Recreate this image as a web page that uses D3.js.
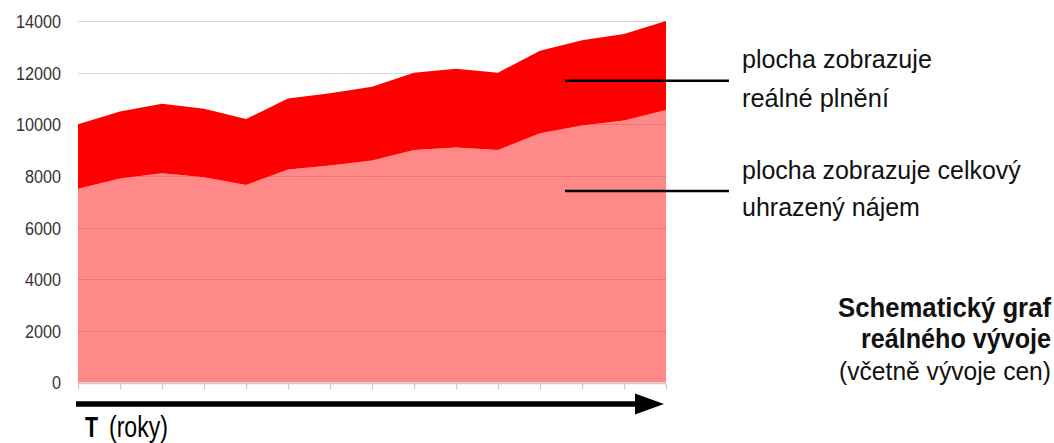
<!DOCTYPE html>
<html><head><meta charset="utf-8">
<script src="https://cdn.jsdelivr.net/npm/d3@7"></script>
<style>body{margin:0;background:#fff}svg{display:block}</style>
</head><body>
<svg id="c" width="1054" height="443"></svg>
<script>
// ---- data ----
const periods = [1,2,3,4,5,6,7,8,9,10,11,12,13,14,15];
const uhrazenyNajem = [7500,7900,8100,7950,7650,8250,8400,8600,9000,9100,9000,9650,9950,10150,10550];
const realnePlneni  = [10000,10500,10800,10600,10200,11000,11200,11450,12000,12150,12000,12850,13250,13500,14000];
const yTicks = [0,2000,4000,6000,8000,10000,12000,14000];
const xAxisLabelBold = "T";
const xAxisLabelRest = "(roky)";
const noteTop = ["plocha zobrazuje","reálné plnění"];
const noteBottom = ["plocha zobrazuje celkový","uhrazený nájem"];
const titleLines = ["Schematický graf","reálného vývoje"];
const subtitle = "(včetně vývoje cen)";

const svg = d3.select("#c");
const font = "'Liberation Sans',Arial,sans-serif";
const x = d3.scalePoint().domain(periods).range([78,666]);
const y = d3.scaleLinear().domain([0,14000]).range([382.5,21]);

// gridlines
svg.append("g").selectAll("line").data(yTicks.filter(d=>d>0)).join("line")
  .attr("x1",78).attr("x2",666).attr("y1",d=>Math.round(y(d))+0.5).attr("y2",d=>Math.round(y(d))+0.5)
  .attr("stroke","#d9d9d9").attr("stroke-width",1.2);

const rows = periods.map((p,i)=>({p, low:uhrazenyNajem[i], high:realnePlneni[i]}));
svg.append("path").datum(rows)
  .attr("d", d3.area().x(d=>x(d.p)).y0(y(0)).y1(d=>y(d.low)))
  .attr("fill","rgb(255,0,0)").attr("fill-opacity",0.465);
svg.append("path").datum(rows)
  .attr("d", d3.area().x(d=>x(d.p)).y0(d=>y(d.low)).y1(d=>y(d.high)))
  .attr("fill","#ff0000");

// x axis
const xa = svg.append("g").attr("transform",`translate(0,${Math.round(y(0))+0.5})`)
  .call(d3.axisBottom(x).tickSize(6).tickFormat(""));
xa.select(".domain").attr("stroke","#cccccc").attr("stroke-width",1.5).attr("d","M78,0H666");
xa.selectAll(".tick line").attr("stroke","#cccccc").attr("stroke-width",1.2);

// y labels
const ya = svg.append("g").attr("transform","translate(61,0)")
  .call(d3.axisLeft(y).tickValues(yTicks).tickSize(0).tickPadding(0).tickFormat(d3.format("d")));
ya.select(".domain").remove();
ya.selectAll("text").attr("font-family",font).attr("font-size",18)
  .attr("fill","#333").attr("dy","0.36em")
  .attr("textLength",d=>String(d).length*9).attr("lengthAdjust","spacingAndGlyphs");

// time arrow
svg.append("line").attr("x1",76).attr("x2",637).attr("y1",404).attr("y2",404)
  .attr("stroke","#000").attr("stroke-width",5.5);
svg.append("path").attr("d","M635,393.5L664,404L635,414.5Z").attr("fill","#000");

// text fitted to a target width by horizontal scaling
function fitText(str,xx,yy,opts){
  const t = svg.append("text").attr("font-family",font)
    .attr("font-size",opts.size).attr("fill",opts.fill||"#111").text(str);
  if(opts.bold) t.attr("font-weight","bold");
  if(opts.anchor) t.attr("text-anchor",opts.anchor);
  const w = t.node().getComputedTextLength();
  const s = opts.len ? opts.len/w : 1;
  t.attr("transform",`translate(${xx},${yy}) scale(${s},1)`);
  return t;
}
fitText(xAxisLabelBold,85,437,{size:30,bold:true,len:13,fill:"#000"});
fitText(xAxisLabelRest,109,437,{size:30,len:59,fill:"#000"});

// pointer lines
[80.7,191].forEach(yy=>{
  svg.append("line").attr("x1",565).attr("x2",729).attr("y1",yy).attr("y2",yy)
    .attr("stroke","#000").attr("stroke-width",2.5);
});

fitText(noteTop[0],742,68,{size:25,len:190});
fitText(noteTop[1],742,107,{size:25,len:147});
fitText(noteBottom[0],742,179,{size:25,len:279});
fitText(noteBottom[1],742,216,{size:25,len:178});

fitText(titleLines[0],1051,317,{size:27,bold:true,anchor:"end",len:213});
fitText(titleLines[1],1051,348,{size:27,bold:true,anchor:"end",len:190});
fitText(subtitle,1051,380,{size:25,anchor:"end",len:212});
</script>
</body></html>
